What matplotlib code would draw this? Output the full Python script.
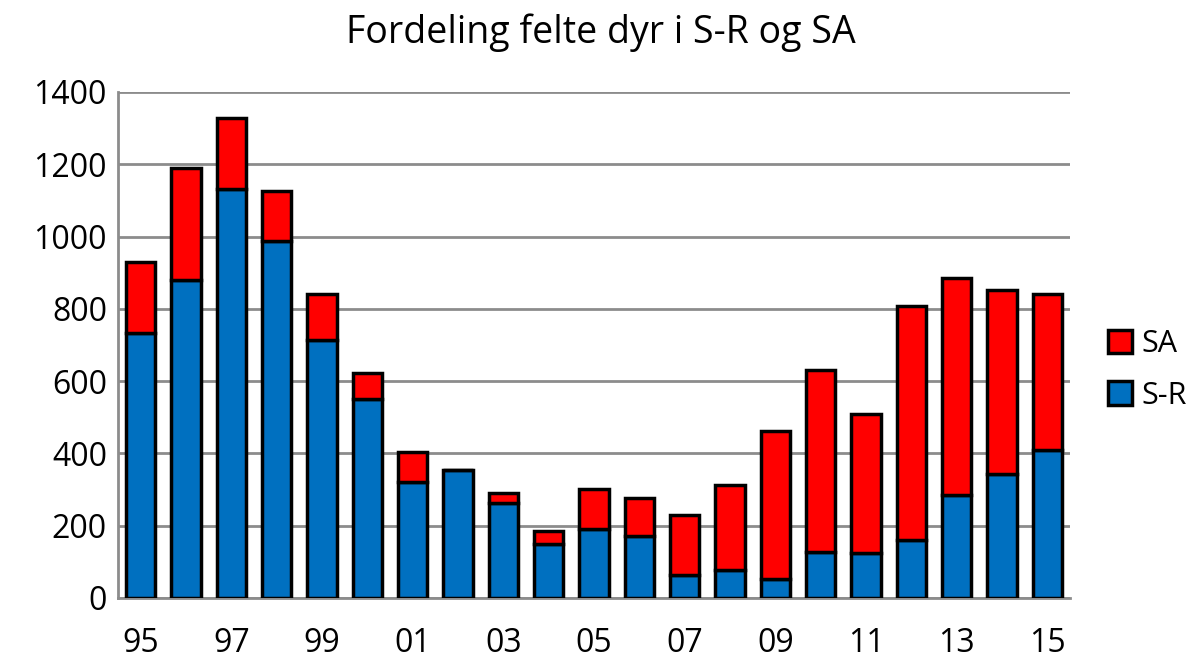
import matplotlib
matplotlib.use("Agg")
import matplotlib.pyplot as plt
import numpy as np

plt.rcParams['font.family'] = ['Open Sans', 'DejaVu Sans']

years = ["95", "96", "97", "98", "99", "00", "01", "02", "03", "04", "05",
         "06", "07", "08", "09", "10", "11", "12", "13", "14", "15"]
sr = [733, 880, 1133, 987, 715, 550, 322, 353, 264, 149, 192,
      171, 63, 77, 52, 128, 124, 161, 284, 343, 410]
sa = [198, 309, 196, 139, 127, 73, 82, 0, 26, 36, 110,
      105, 168, 237, 410, 503, 385, 648, 601, 508, 432]
yticks = [0, 200, 400, 600, 800, 1000, 1200, 1400]

fig = plt.figure(figsize=(12.02, 6.61), dpi=100)
ax = fig.add_axes([118/1202, 1-598/661, (1070-118)/1202, (598-92)/661])

x = np.arange(len(years))
w = 0.64
ax.bar(x, sr, w, color="#0070C0", edgecolor="black", linewidth=2.5, label="S-R", zorder=3)
ax.bar(x, sa, w, bottom=sr, color="#FF0000", edgecolor="black", linewidth=2.5, label="SA", zorder=3)

ax.set_xlim(-0.5, len(years) - 0.5)
ax.set_ylim(0, 1400)
ax.set_yticks(yticks)
ax.set_yticklabels([str(v) for v in yticks], fontsize=23)
ax.set_xticks(x[::2])
ax.set_xticklabels(years[::2], fontsize=23)
ax.tick_params(axis='x', length=0, pad=21)
ax.tick_params(axis='y', length=0, pad=8)
ax.yaxis.grid(True, color="#8C8C8C", linewidth=2.0, zorder=0)
ax.set_axisbelow(True)
for s in ["top", "right"]:
    ax.spines[s].set_visible(False)
for s in ["left", "bottom"]:
    ax.spines[s].set_color("#8C8C8C")
    ax.spines[s].set_linewidth(2.0)

fig.text(0.5, 1-33/661, "Fordeling felte dyr i S-R og SA", ha="center", va="center", fontsize=27)

handles, labels = ax.get_legend_handles_labels()
leg = fig.legend(handles[::-1], labels[::-1], loc="center left",
                 bbox_to_anchor=(1080/1202, 1-370/661), frameon=False,
                 fontsize=22, handlelength=0.8, handleheight=0.8,
                 handletextpad=0.3, labelspacing=0.7)

fig.savefig("out.png", dpi=100)
